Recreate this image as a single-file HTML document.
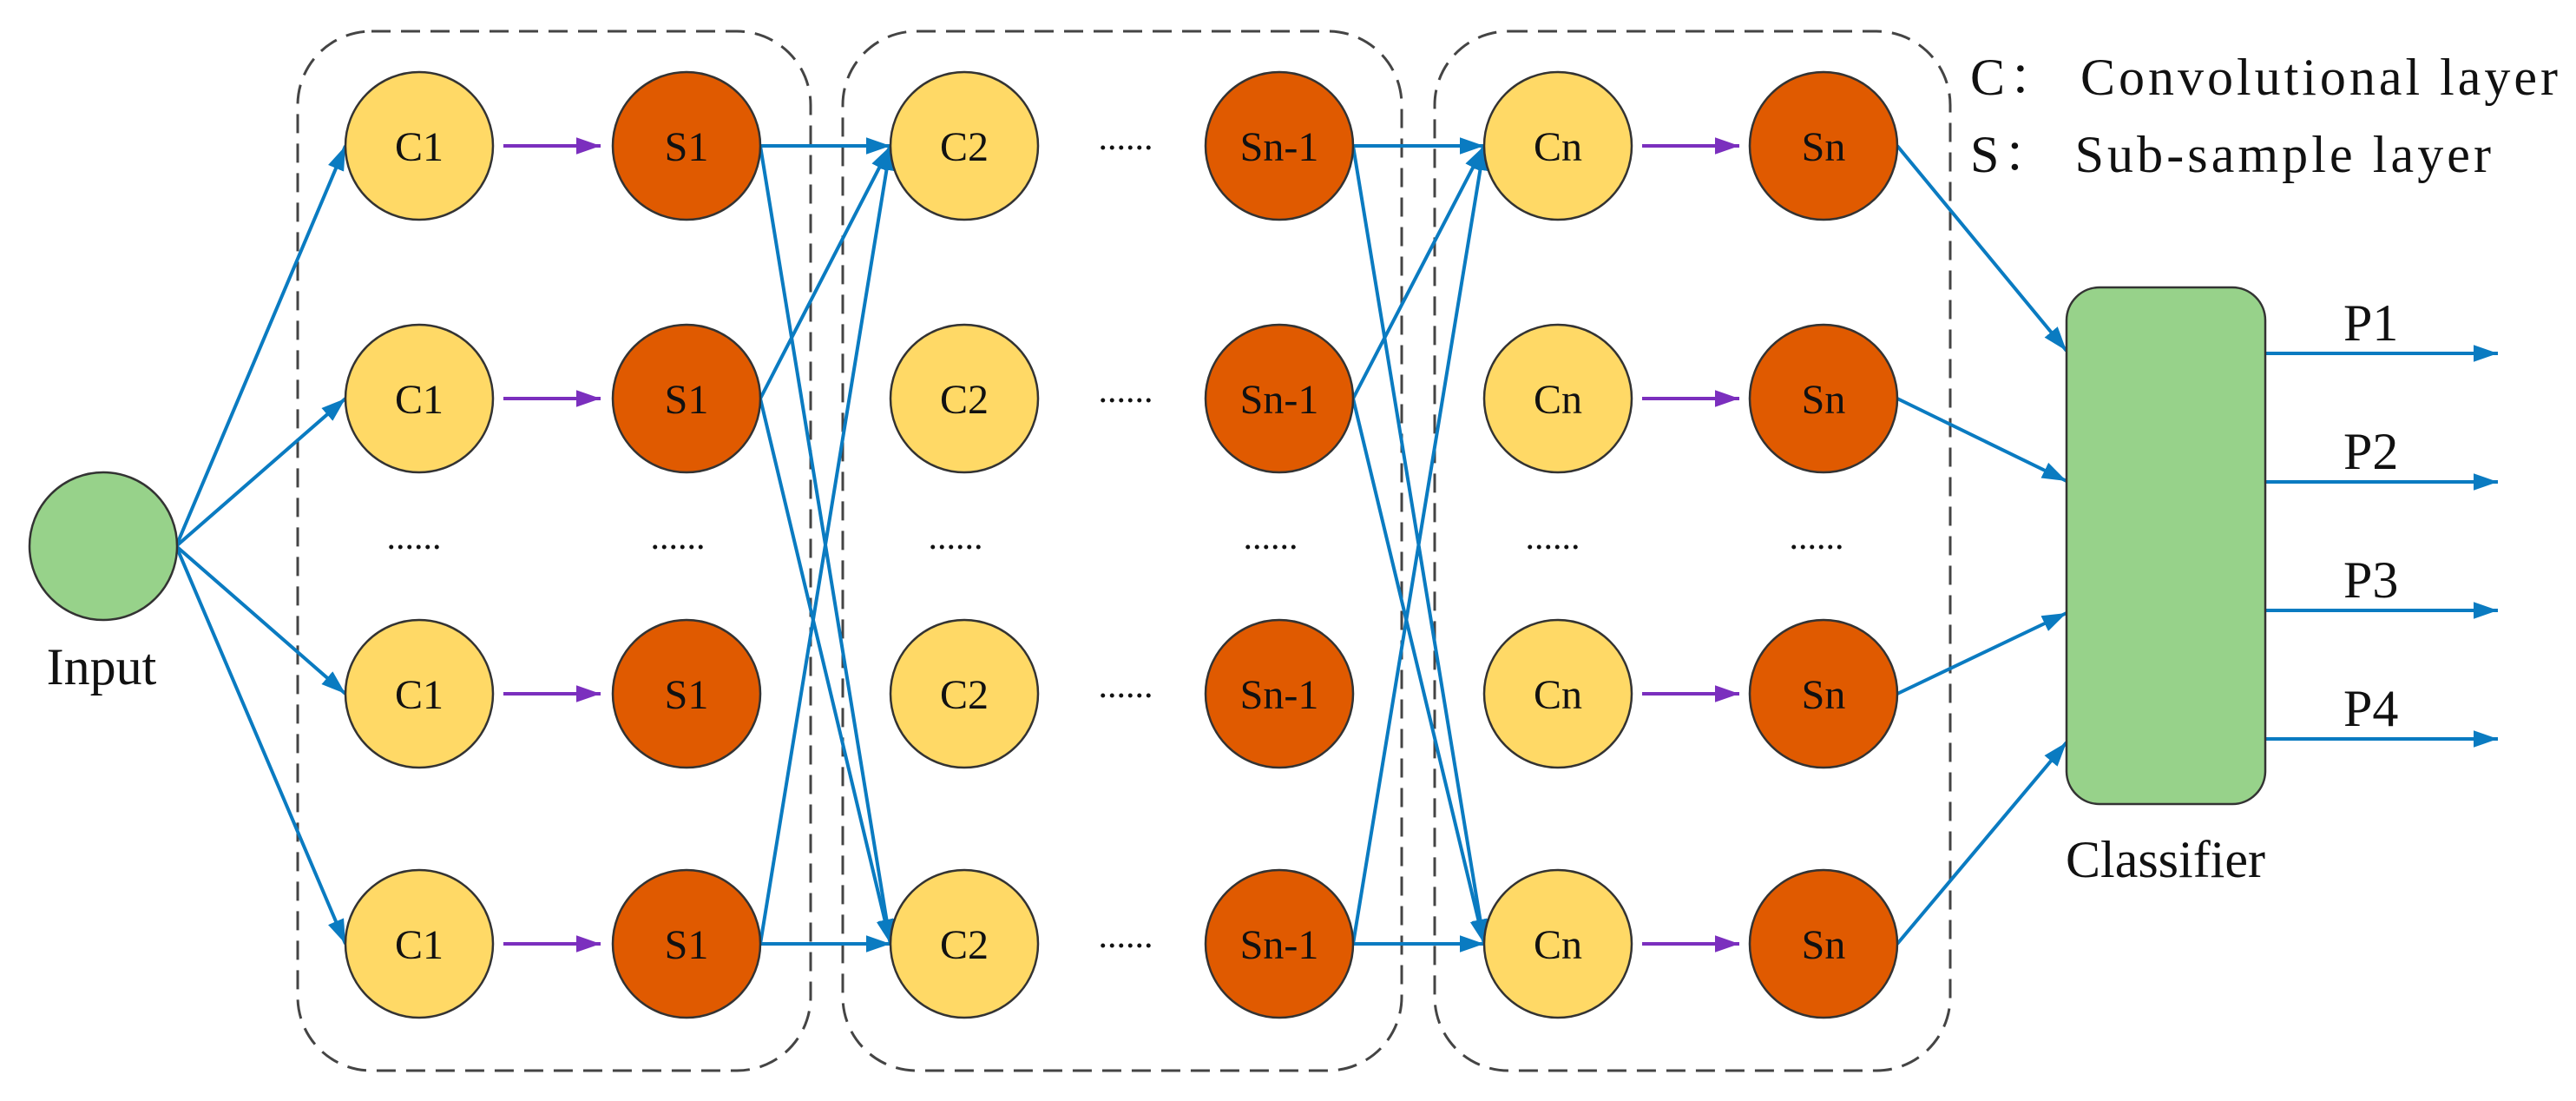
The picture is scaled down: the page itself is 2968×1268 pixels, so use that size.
<!DOCTYPE html>
<html><head><meta charset="utf-8"><style>html,body{margin:0;padding:0;background:#fff}svg{display:block}</style></head>
<body>
<svg width="2968" height="1268" viewBox="0 0 2968 1268" xmlns="http://www.w3.org/2000/svg" style="font-family:'Liberation Serif','Noto Serif CJK SC',serif">
<defs>
<marker id="b" viewBox="0 0 10 10" refX="10" refY="5" markerWidth="7" markerHeight="7" markerUnits="strokeWidth" orient="auto"><path d="M0,1.5 L10,5 L0,8.5 z" fill="#0a7bc1"/></marker>
<marker id="p" viewBox="0 0 10 10" refX="10" refY="5" markerWidth="7" markerHeight="7" markerUnits="strokeWidth" orient="auto"><path d="M0,1.5 L10,5 L0,8.5 z" fill="#7b2fbe"/></marker>
</defs>
<g fill="none" stroke="#444" stroke-width="3" stroke-dasharray="22,12">
<rect x="343" y="36" width="591" height="1197" rx="85"/>
<rect x="971" y="36" width="644" height="1197" rx="85"/>
<rect x="1653" y="36" width="594" height="1197" rx="85"/>
</g>
<g stroke="#0a7bc1" stroke-width="4" fill="none" marker-end="url(#b)">
<line x1="203" y1="629" x2="398" y2="168"/>
<line x1="203" y1="629" x2="398" y2="459"/>
<line x1="203" y1="629" x2="398" y2="799"/>
<line x1="203" y1="629" x2="398" y2="1087"/>
<line x1="876" y1="168" x2="1026" y2="168"/>
<line x1="876" y1="168" x2="1026" y2="1087"/>
<line x1="876" y1="459" x2="1026" y2="168"/>
<line x1="876" y1="459" x2="1026" y2="1087"/>
<line x1="876" y1="1087" x2="1026" y2="168"/>
<line x1="876" y1="1087" x2="1026" y2="1087"/>
<line x1="1559" y1="168" x2="1710" y2="168"/>
<line x1="1559" y1="168" x2="1710" y2="1087"/>
<line x1="1559" y1="459" x2="1710" y2="168"/>
<line x1="1559" y1="459" x2="1710" y2="1087"/>
<line x1="1559" y1="1087" x2="1710" y2="168"/>
<line x1="1559" y1="1087" x2="1710" y2="1087"/>
<line x1="2186" y1="168" x2="2381" y2="404"/>
<line x1="2186" y1="459" x2="2381" y2="554"/>
<line x1="2186" y1="799" x2="2381" y2="706"/>
<line x1="2186" y1="1087" x2="2381" y2="855"/>
<line x1="2610" y1="407" x2="2878" y2="407"/>
<line x1="2610" y1="555" x2="2878" y2="555"/>
<line x1="2610" y1="703" x2="2878" y2="703"/>
<line x1="2610" y1="851" x2="2878" y2="851"/>
</g>
<g stroke="#7b2fbe" stroke-width="4" marker-end="url(#p)">
<line x1="580" y1="168" x2="692" y2="168"/>
<line x1="580" y1="459" x2="692" y2="459"/>
<line x1="580" y1="799" x2="692" y2="799"/>
<line x1="580" y1="1087" x2="692" y2="1087"/>
<line x1="1892" y1="168" x2="2004" y2="168"/>
<line x1="1892" y1="459" x2="2004" y2="459"/>
<line x1="1892" y1="799" x2="2004" y2="799"/>
<line x1="1892" y1="1087" x2="2004" y2="1087"/>
</g>
<g stroke="#333" stroke-width="2.5">
<ellipse cx="119" cy="629" rx="85" ry="85" fill="#97d28a"/>
<g fill="#ffd966">
<circle cx="483" cy="168" r="85"/><circle cx="483" cy="459" r="85"/><circle cx="483" cy="799" r="85"/><circle cx="483" cy="1087" r="85"/>
<circle cx="1111" cy="168" r="85"/><circle cx="1111" cy="459" r="85"/><circle cx="1111" cy="799" r="85"/><circle cx="1111" cy="1087" r="85"/>
<circle cx="1795" cy="168" r="85"/><circle cx="1795" cy="459" r="85"/><circle cx="1795" cy="799" r="85"/><circle cx="1795" cy="1087" r="85"/>
</g>
<g fill="#e05a00">
<circle cx="791" cy="168" r="85"/><circle cx="791" cy="459" r="85"/><circle cx="791" cy="799" r="85"/><circle cx="791" cy="1087" r="85"/>
<circle cx="1474" cy="168" r="85"/><circle cx="1474" cy="459" r="85"/><circle cx="1474" cy="799" r="85"/><circle cx="1474" cy="1087" r="85"/>
<circle cx="2101" cy="168" r="85"/><circle cx="2101" cy="459" r="85"/><circle cx="2101" cy="799" r="85"/><circle cx="2101" cy="1087" r="85"/>
</g>
<rect x="2381" y="331" width="229" height="595" rx="38" fill="#97d28a"/>
</g>
<g style="font-family:'Liberation Serif',serif" font-size="48" text-anchor="middle" fill="#111">
<text x="483" y="185">C1</text><text x="483" y="476">C1</text><text x="483" y="816">C1</text><text x="483" y="1104">C1</text>
<text x="791" y="185">S1</text><text x="791" y="476">S1</text><text x="791" y="816">S1</text><text x="791" y="1104">S1</text>
<text x="1111" y="185">C2</text><text x="1111" y="476">C2</text><text x="1111" y="816">C2</text><text x="1111" y="1104">C2</text>
<text x="1474" y="185">Sn-1</text><text x="1474" y="476">Sn-1</text><text x="1474" y="816">Sn-1</text><text x="1474" y="1104">Sn-1</text>
<text x="1795" y="185">Cn</text><text x="1795" y="476">Cn</text><text x="1795" y="816">Cn</text><text x="1795" y="1104">Cn</text>
<text x="2101" y="185">Sn</text><text x="2101" y="476">Sn</text><text x="2101" y="816">Sn</text><text x="2101" y="1104">Sn</text>
<g font-size="42">
<text x="1297" y="172">......</text><text x="1297" y="463">......</text><text x="1297" y="803">......</text><text x="1297" y="1091">......</text>
<text x="477" y="632">......</text><text x="781" y="632">......</text><text x="1101" y="632">......</text><text x="1464" y="632">......</text><text x="1789" y="632">......</text><text x="2093" y="632">......</text>
</g>
</g>
<g style="font-family:'Liberation Serif','Noto Serif CJK SC',serif" font-size="60" fill="#111">
<text x="117" y="788" text-anchor="middle">Input</text>
<text x="2495" y="1010" text-anchor="middle">Classifier</text>
<text x="2700" y="392">P1</text>
<text x="2700" y="540">P2</text>
<text x="2700" y="688">P3</text>
<text x="2700" y="836">P4</text>
<text x="2270" y="109" textLength="677" lengthAdjust="spacing">C：  Convolutional layer</text>
<text x="2270" y="198" textLength="600" lengthAdjust="spacing">S：  Sub-sample layer</text>
</g>
</svg>
</body></html>
